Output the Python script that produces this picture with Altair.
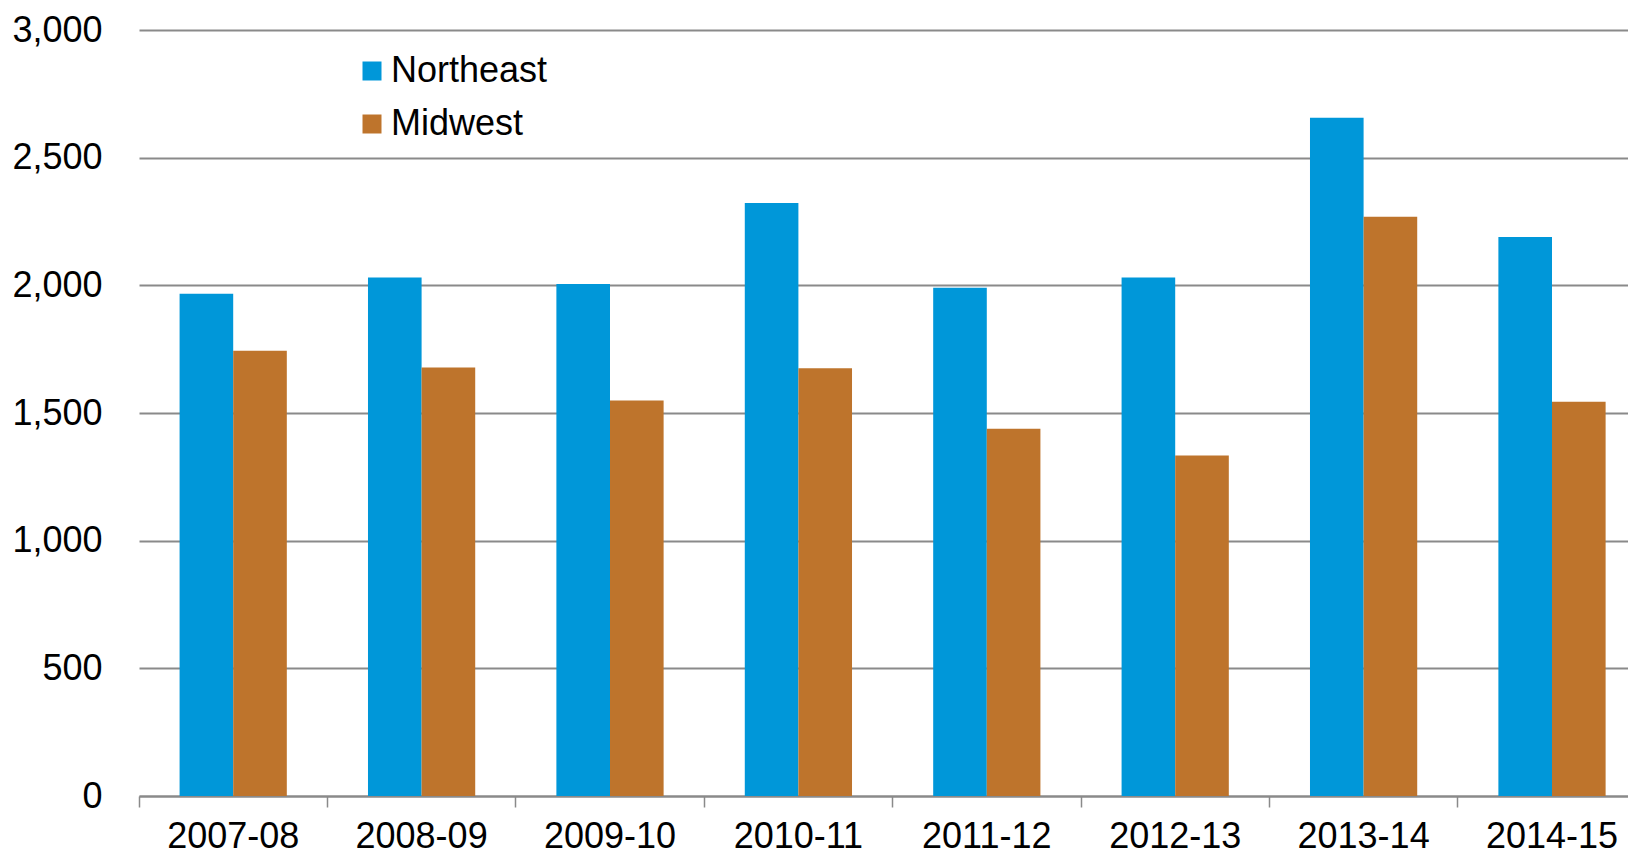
import altair as alt
import pandas as pd

years = ["2007-08", "2008-09", "2009-10", "2010-11", "2011-12", "2012-13", "2013-14", "2014-15"]
northeast = [1967, 2031, 2005, 2322, 1991, 2031, 2656, 2189]
midwest = [1744, 1678, 1549, 1675, 1438, 1334, 2269, 1544]
regions = ["Northeast", "Midwest"]
colors = ["#0097D9", "#BE742C"]
y_ticks = [0, 500, 1000, 1500, 2000, 2500, 3000]

rows = []
for i, yr in enumerate(years):
    rows.append({"year": yr, "region": "Northeast", "value": northeast[i]})
    rows.append({"year": yr, "region": "Midwest", "value": midwest[i]})
df = pd.DataFrame(rows)

FONT = "Liberation Sans"
PLOT_W = 1489
PLOT_H = 766
STEP = 188.4
GRAY = "#8a8a8a"

chart = alt.Chart(df).mark_bar().encode(
    x=alt.X(
        "year:N", sort=years, title=None,
        scale=alt.Scale(range=[0, STEP * len(years)], paddingInner=0, paddingOuter=0),
        axis=alt.Axis(
            bandPosition=0, labelAngle=0, labelFont=FONT, labelFontSize=36,
            labelColor="black", labelBaseline="alphabetic", labelPadding=40,
            tickSize=11, tickColor=GRAY, tickWidth=1.5, domainColor=GRAY,
            domainWidth=2, grid=False, labelFlush=False,
        ),
    ),
    xOffset=alt.XOffset(
        "region:N", sort=regions,
        scale=alt.Scale(paddingInner=0, paddingOuter=0.757),
    ),
    y=alt.Y(
        "value:Q", title=None,
        scale=alt.Scale(domain=[0, 3000], nice=False),
        axis=alt.Axis(
            values=y_ticks, format=",.0f", labelFont=FONT, labelFontSize=36,
            labelColor="black", domain=False, ticks=False, tickSize=0,
            labelPadding=37, gridColor=GRAY, gridWidth=1.8,
        ),
    ),
    color=alt.Color(
        "region:N", sort=regions,
        scale=alt.Scale(domain=regions, range=colors),
        legend=alt.Legend(
            title=None, orient="none", legendX=215, legendY=23, padding=0,
            symbolType="square", symbolSize=361, symbolStrokeWidth=0,
            symbolOpacity=1, labelFont=FONT, labelFontSize=36,
            labelColor="black", rowPadding=17, labelOffset=1,
        ),
    ),
).properties(
    width=PLOT_W,
    height=PLOT_H,
    autosize=alt.AutoSizeParams(type="none"),
    padding={"left": 131, "top": 22, "right": 0, "bottom": 60},
    background="white",
).configure_view(stroke=None)

chart.save("out.html", embed_options={"renderer": "svg", "actions": False})
